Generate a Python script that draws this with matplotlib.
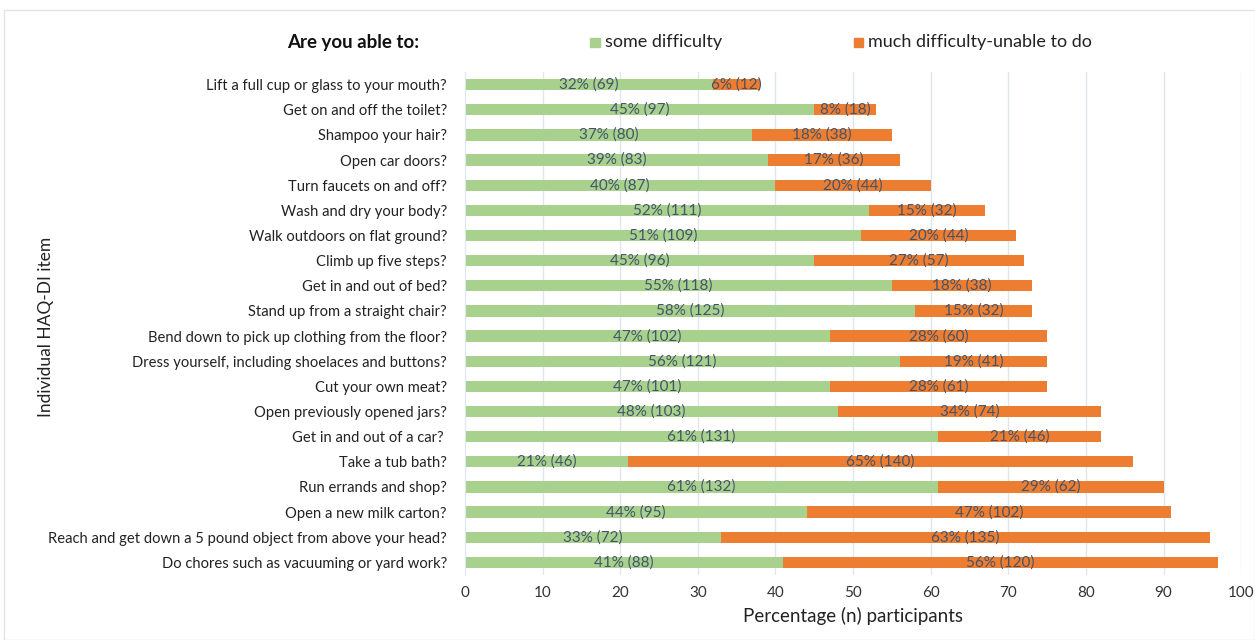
import matplotlib
matplotlib.use('Agg')
import matplotlib.pyplot as plt
from matplotlib.patches import Rectangle

# HAQ-DI items, listed top to bottom
items = [
    "Lift a full cup or glass to your mouth?",
    "Get on and off the toilet?",
    "Shampoo your hair?",
    "Open car doors?",
    "Turn faucets on and off?",
    "Wash and dry your body?",
    "Walk outdoors on flat ground?",
    "Climb up five steps?",
    "Get in and out of bed?",
    "Stand up from a straight chair?",
    "Bend down to pick up clothing from the floor?",
    "Dress yourself, including shoelaces and buttons?",
    "Cut your own meat?",
    "Open previously opened jars?",
    "Get in and out of a car? ",
    "Take a tub bath?",
    "Run errands and shop?",
    "Open a new milk carton?",
    "Reach and get down a 5 pound object from above your head?",
    "Do chores such as vacuuming or yard work?",
]
some_pct = [32, 45, 37, 39, 40, 52, 51, 45, 55, 58, 47, 56, 47, 48, 61, 21, 61, 44, 33, 41]
some_n = [69, 97, 80, 83, 87, 111, 109, 96, 118, 125, 102, 121, 101, 103, 131, 46, 132, 95, 72, 88]
much_pct = [6, 8, 18, 17, 20, 15, 20, 27, 18, 15, 28, 19, 28, 34, 21, 65, 29, 47, 63, 56]
much_n = [12, 18, 38, 36, 44, 32, 44, 57, 38, 32, 60, 41, 61, 74, 46, 140, 62, 102, 135, 120]

GREEN = "#A9D18E"
ORANGE = "#ED7D31"
LABEL = "#44546A"

plt.rcParams['font.family'] = ['Lato', 'DejaVu Sans']

fig = plt.figure(figsize=(12.55, 6.4), dpi=100)
fig.patches.append(Rectangle((0.003, 0.0), 0.997, 0.985, transform=fig.transFigure,
                             fill=False, edgecolor="#E3E3E3", linewidth=1))
ax = fig.add_axes([0.3705, 0.1016, 0.6185, 0.7859])

ypos = list(range(len(items)))
ax.barh(ypos, some_pct, height=0.45, color=GREEN, zorder=2)
ax.barh(ypos, much_pct, left=some_pct, height=0.45, color=ORANGE, zorder=2)

for y, sp, sn, mp, mn in zip(ypos, some_pct, some_n, much_pct, much_n):
    ax.text(sp / 2, y, f"{sp}% ({sn})", ha="center", va="center",
            fontsize=11, color=LABEL, zorder=3)
    ax.text(sp + mp / 2, y, f"{mp}% ({mn})", ha="center", va="center",
            fontsize=11, color=LABEL, zorder=3)

ax.set_yticks(ypos)
ax.set_yticklabels(items, fontsize=10.6, color="#222222")
ax.set_ylim(len(items) - 0.5, -0.5)
ax.set_xlim(0, 100)
ax.set_xticks(range(0, 101, 10))
ax.tick_params(axis="x", labelsize=11, colors="#333333", length=0, pad=8)
ax.tick_params(axis="y", length=0, pad=13)
ax.grid(axis="x", color="#DCE8EE", linewidth=1, zorder=0)
for side in ["top", "right", "bottom"]:
    ax.spines[side].set_visible(False)
ax.spines["left"].set_color("#DCE8EE")

ax.set_xlabel("Percentage (n) participants", fontsize=13.5, color="#222222", labelpad=5)
fig.text(0.037, 0.49, "Individual HAQ-DI item", rotation=90, ha="center", va="center",
         fontsize=12.5, color="#222222")

# header row with legend
fig.text(0.229, 0.934, "Are you able to:", fontsize=13.5, fontweight="bold", va="center", color="#111111")
fig.patches.append(Rectangle((0.4705, 0.927), 0.0072, 0.014, transform=fig.transFigure, color=GREEN))
fig.text(0.482, 0.934, "some difficulty", fontsize=13, va="center", color="#222222")
fig.patches.append(Rectangle((0.6805, 0.927), 0.0072, 0.014, transform=fig.transFigure, color=ORANGE))
fig.text(0.692, 0.934, "much difficulty-unable to do", fontsize=13, va="center", color="#222222")

fig.savefig("out.png", dpi=100)
